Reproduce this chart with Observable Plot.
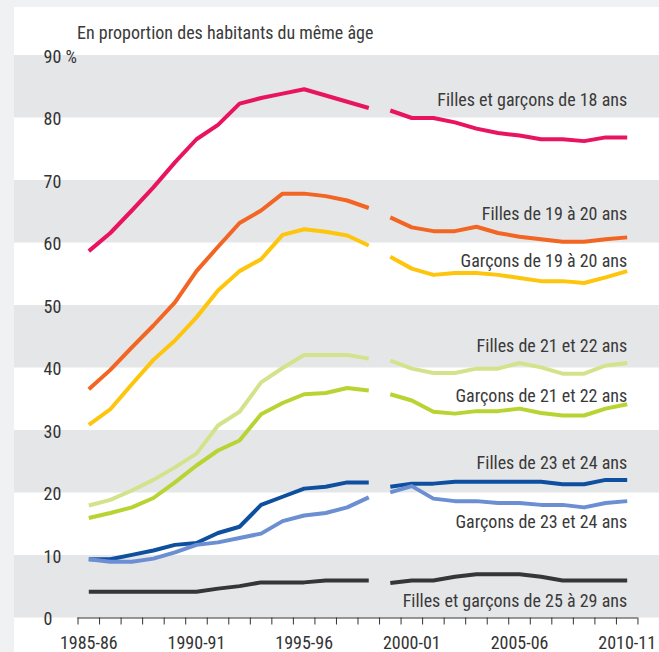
<!DOCTYPE html>
<html>
<head>
<meta charset="utf-8">
<script src="https://cdn.jsdelivr.net/npm/d3@7"></script>
<script src="https://cdn.jsdelivr.net/npm/@observablehq/plot@0.6"></script>
<style>
  body { margin: 0; background: #eff1f3; }
  #panel { position: absolute; left: 14px; top: 7px; width: 645px; height: 645px; background: #fff; overflow: hidden; }
  #chart { position: absolute; left: 0; top: 0; }
  #title { position: absolute; left: 63px; color: #3a3a3a; white-space: nowrap; }
</style>
</head>
<body>
<div id="panel">
  <div id="chart"></div>
  <div id="title">En proportion des habitants du même âge</div>
</div>
<script>
const years = [1985,1986,1987,1988,1989,1990,1991,1992,1993,1994,1995,1996,1997,1998,1999,2000,2001,2002,2003,2004,2005,2006,2007,2008,2009,2010];
const labeledYears = [1985, 1990, 1995, 2000, 2005, 2010];
const yTicks = [0, 10, 20, 30, 40, 50, 60, 70, 80, 90];
const breakAfter = 1998;
const titleText = "En proportion des habitants du même âge";

const seriesNames = [
  "Filles et garçons de 18 ans",
  "Filles de 19 à 20 ans",
  "Garçons de 19 à 20 ans",
  "Filles de 21 et 22 ans",
  "Garçons de 21 et 22 ans",
  "Filles de 23 et 24 ans",
  "Garçons de 23 et 24 ans",
  "Filles et garçons de 25 à 29 ans"
];

const f18   = [58.7, 61.6, 65.2, 68.9, 72.9, 76.6, 78.9, 82.3, 83.2, 83.9, 84.6, 83.6, 82.6, 81.6, 81.2, 80.0, 80.0, 79.3, 78.3, 77.6, 77.2, 76.6, 76.6, 76.3, 76.9, 76.9];
const f1920 = [36.6, 39.7, 43.3, 46.8, 50.5, 55.5, 59.4, 63.2, 65.2, 67.9, 67.9, 67.5, 66.8, 65.6, 64.1, 62.5, 61.9, 61.9, 62.6, 61.6, 61.0, 60.6, 60.2, 60.2, 60.6, 60.9];
const g1920 = [30.9, 33.4, 37.4, 41.3, 44.4, 48.1, 52.4, 55.5, 57.4, 61.3, 62.2, 61.8, 61.2, 59.6, 57.8, 55.9, 54.9, 55.2, 55.2, 54.9, 54.4, 53.9, 53.9, 53.6, 54.5, 55.5];
const f2122 = [18.0, 18.9, 20.4, 22.1, 24.1, 26.3, 30.8, 33.0, 37.7, 40.0, 42.1, 42.1, 42.1, 41.5, 41.2, 39.9, 39.2, 39.2, 39.9, 39.9, 40.8, 40.1, 39.1, 39.1, 40.4, 40.8];
const g2122 = [16.0, 16.8, 17.7, 19.2, 21.7, 24.4, 26.8, 28.4, 32.6, 34.4, 35.8, 36.0, 36.8, 36.4, 35.8, 34.8, 33.0, 32.7, 33.1, 33.1, 33.5, 32.8, 32.4, 32.4, 33.5, 34.2];
const f2324 = [9.4, 9.4, 10.1, 10.8, 11.7, 12.0, 13.6, 14.6, 18.1, 19.4, 20.7, 21.0, 21.7, 21.7, 21.0, 21.5, 21.5, 21.8, 21.8, 21.8, 21.8, 21.8, 21.4, 21.4, 22.1, 22.1];
const g2324 = [9.4, 9.0, 9.0, 9.5, 10.5, 11.7, 12.1, 12.8, 13.5, 15.5, 16.4, 16.8, 17.7, 19.3, 20.1, 21.1, 19.1, 18.7, 18.7, 18.4, 18.4, 18.1, 18.1, 17.7, 18.4, 18.7];
const a2529 = [4.2, 4.2, 4.2, 4.2, 4.2, 4.2, 4.7, 5.1, 5.7, 5.7, 5.7, 6.0, 6.0, 6.0, 5.6, 6.0, 6.0, 6.6, 7.0, 7.0, 7.0, 6.6, 6.0, 6.0, 6.0, 6.0];

// label anchor heights (in % units), placed at the right end
const labelY = [82.9, 64.6, 57.1, 43.5, 35.5, 24.7, 15.3, 2.7];

const colors = ["#e8145f", "#f26522", "#fdc50c", "#d3e38b", "#b8d432", "#0f4fa0", "#6b8fd2", "#363636"];
const values = [f18, f1920, g1920, f2122, g2122, f2324, g2324, a2529];

// pick a narrow font if one is installed, and size text so the title spans ~299px as in the reference
const ctx = document.createElement("canvas").getContext("2d");
function installed(name) {
  const probe = "abcdefghijklmnopqrstuvwxyz0123456789";
  ctx.font = "40px monospace"; const a = ctx.measureText(probe).width;
  ctx.font = `40px "${name}", monospace`; const b = ctx.measureText(probe).width;
  return a !== b;
}
const candidates = ["Liberation Sans Narrow", "Roboto Condensed", "Arial Narrow", "Nimbus Sans Narrow", "DejaVu Sans Condensed"];
const chosen = candidates.find(installed) || "DejaVu Sans Condensed";
const font = `"${chosen}", "DejaVu Sans Condensed", sans-serif`;
ctx.font = `18px ${font}`;
const fs = Math.min(18, 18 * 299 / ctx.measureText(titleText).width);

const rows = [];
values.forEach((vals, s) => {
  vals.forEach((v, i) => rows.push({series: seriesNames[s], year: years[i], value: v, seg: years[i] <= breakAfter ? 0 : 1}));
});
const bands = yTicks.filter(t => t % 20 === 0 && t < 90).map(t => ({lo: t, hi: t + 10}));
const boundaries = years.map(y => y - 0.5).concat([years[years.length - 1] + 0.5]);
const labels = seriesNames.map((n, i) => ({name: n, y: labelY[i]}));

const title = document.getElementById("title");
title.style.font = `${fs}px/${fs}px ${font}`;
title.style.top = (32 - 0.85 * fs) + "px";

const chart = Plot.plot({
  width: 645,
  height: 645,
  marginLeft: 0,
  marginRight: 0,
  marginTop: 48,
  marginBottom: 34.5,
  style: {fontFamily: font, fontSize: fs + "px", color: "#333", background: "transparent", overflow: "visible"},
  x: {domain: [1981.55, 2011.5]},
  y: {domain: [0, 90]},
  color: {domain: seriesNames, range: colors},
  marks: [
    Plot.rect(bands, {y1: "lo", y2: "hi", fill: "#e5e6e8"}),
    Plot.axisY({ticks: yTicks, tickSize: 0, tickPadding: 0, textAnchor: "start", dx: 29, dy: 1.5,
      tickFormat: d => d === 90 ? "90 %" : String(d), fill: "#333", fontSize: fs, label: null}),
    Plot.ruleY([0], {x1: boundaries[0], x2: boundaries[boundaries.length - 1], stroke: "#333", strokeWidth: 1}),
    Plot.axisX({ticks: boundaries, tickSize: 7, tickFormat: () => "", stroke: "#333", label: null}),
    Plot.axisX({ticks: labeledYears, tickSize: 0, tickPadding: 32 - 0.74 * fs, stroke: null, fill: "#333",
      fontSize: fs, tickFormat: d => `${d}-${String(d + 1).slice(2)}`, label: null}),
    Plot.line(rows, {x: "year", y: "value", z: d => d.series + d.seg, stroke: "series",
      strokeWidth: 4, strokeLinejoin: "round", strokeLinecap: "butt"}),
    Plot.text(labels, {x: years[years.length - 1], y: "y", text: "name", textAnchor: "end",
      fill: "#3a3a3a", fontSize: fs})
  ]
});
document.getElementById("chart").appendChild(chart);
</script>
</body>
</html>
